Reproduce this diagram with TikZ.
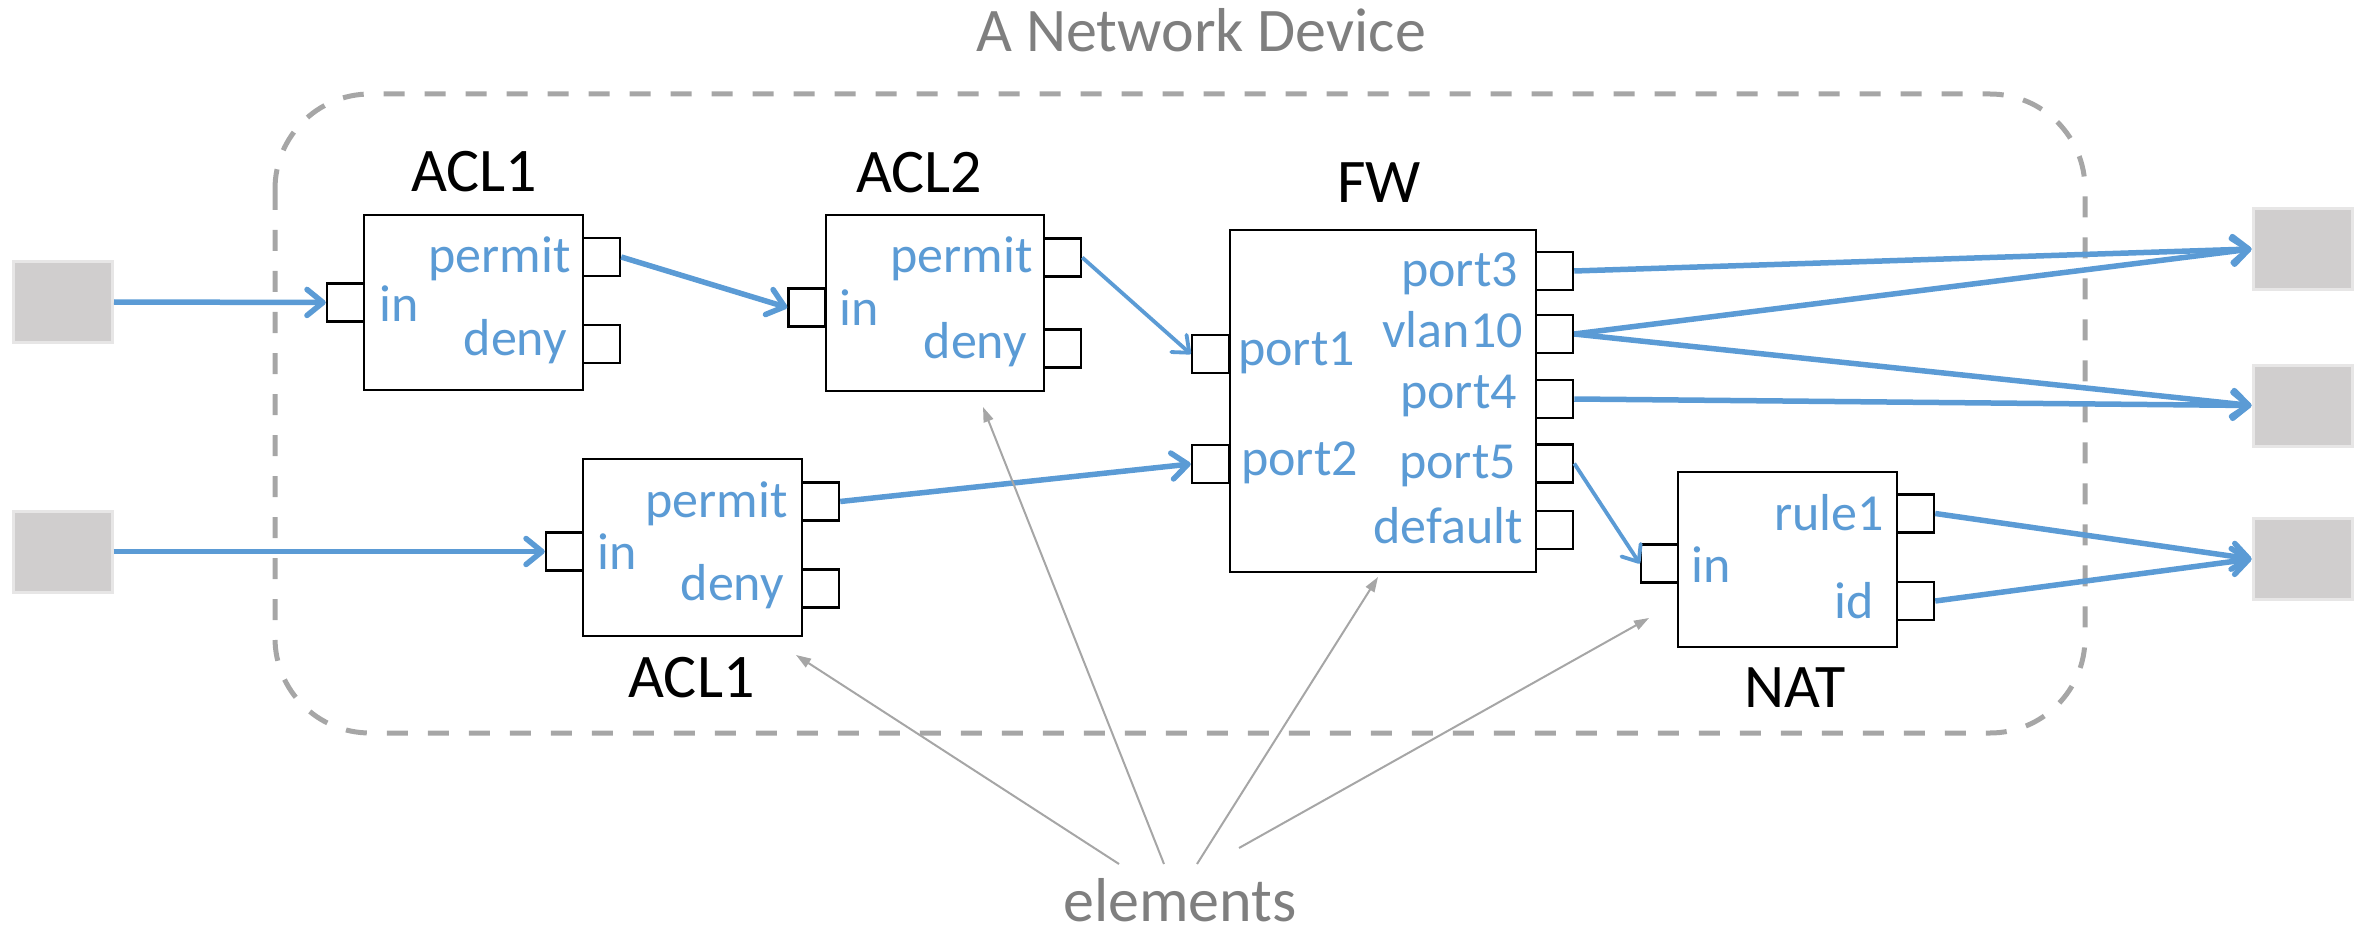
\documentclass[tikz,border=0pt]{standalone}
\usepackage{fontspec}
\setmainfont{Carlito}
\usetikzlibrary{arrows.meta}
\definecolor{linkblue}{HTML}{5B9BD5}
\definecolor{framegray}{HTML}{A6A6A6}
\definecolor{captgray}{HTML}{7F7F7F}
\definecolor{hostfill}{HTML}{D0CECE}
\definecolor{hostedge}{HTML}{E7E6E6}

\begin{document}
\begin{tikzpicture}[x=1pt,y=-1pt,
  elem/.style={draw=black, line width=2.8pt, fill=white, inner sep=0pt},
  port/.style={draw=black, line width=2.5pt, fill=white, inner sep=0pt,
    minimum width=37pt, minimum height=38pt},
  host/.style={draw=hostedge, line width=3pt, fill=hostfill, inner sep=0pt,
    minimum width=99pt, minimum height=81pt},
  etitle/.style={font=\fontsize{62}{70}\selectfont, text=black, inner sep=0pt, anchor=base},
  caption/.style={font=\fontsize{62}{70}\selectfont, text=captgray, inner sep=0pt, anchor=base},
  plabel/.style={font=\fontsize{52}{60}\selectfont, text=linkblue, inner sep=0pt},
  pl/.style={plabel, anchor=base west},
  pr/.style={plabel, anchor=base east},
  link/.style={draw=linkblue, line width=5.5pt,
    -{Straight Barb[length=16pt,width=26pt,round]}},
  thinlink/.style={draw=linkblue, line width=3.8pt,
    -{Straight Barb[length=14pt,width=23pt,round]}},
  note/.style={draw=framegray, line width=2pt, -{Triangle[length=15pt,width=10pt]}},
]
\useasboundingbox (0,0) rectangle (2377,933);

% device outline
\draw[framegray, line width=5pt, dash pattern=on 21pt off 20pt, rounded corners=95pt]
  (275,94) rectangle (2085,733);
\node[caption] (devtitle) at (1201,52) {A Network Device};

% outside hosts
\node[host] (h1) at (63,302) {};
\node[host] (h2) at (62.5,551.5) {};
\node[host] (h3) at (2302.5,249) {};
\node[host] (h4) at (2302.5,405.5) {};
\node[host] (h5) at (2302.5,559) {};

% ACL1 (upper)
\node[elem, minimum width=219pt, minimum height=175pt] (acla) at (473.5,302.5) {};
\node[port] (acla-in) at (345.5,302.5) {};
\node[port] (acla-permit) at (601.5,257) {};
\node[port] (acla-deny) at (601.5,344) {};
\node[etitle] (acla-t) at (474,192) {ACL1};
\node[pr] (acla-pl) at (571,273) {permit};
\node[pr] (acla-dl) at (567,355) {deny};
\node[pl] (acla-il) at (379,322) {in};

% ACL2
\node[elem, minimum width=218pt, minimum height=176pt] (aclb) at (935,303) {};
\node[port] (aclb-in) at (807,307.5) {};
\node[port] (aclb-permit) at (1062.5,257.5) {};
\node[port] (aclb-deny) at (1062.5,348.5) {};
\node[etitle] (aclb-t) at (919,193) {ACL2};
\node[pr] (aclb-pl) at (1033,273) {permit};
\node[pr] (aclb-dl) at (1027,358) {deny};
\node[pl] (aclb-il) at (839,325) {in};

% ACL1 (lower)
\node[elem, minimum width=219pt, minimum height=177pt] (aclc) at (692.5,547.5) {};
\node[port] (aclc-in) at (564.5,551.5) {};
\node[port] (aclc-permit) at (820.5,501.5) {};
\node[port] (aclc-deny) at (820.5,588.5) {};
\node[etitle] (aclc-t) at (691.5,697) {ACL1};
\node[pr] (aclc-pl) at (788,517) {permit};
\node[pr] (aclc-dl) at (784,600) {deny};
\node[pl] (aclc-il) at (597,569) {in};

% FW
\node[elem, minimum width=306pt, minimum height=342pt] (fw) at (1383,401) {};
\node[port] (fw-p1) at (1210.5,354) {};
\node[port] (fw-p2) at (1210.5,464) {};
\node[port] (fw-p3) at (1554.5,271) {};
\node[port] (fw-v10) at (1554.5,334) {};
\node[port] (fw-p4) at (1554.5,399) {};
\node[port] (fw-p5) at (1554.5,463.5) {};
\node[port] (fw-def) at (1554.5,530) {};
\node[etitle] (fw-t) at (1379,203) {FW};
\node[pl] (fw-l1) at (1238,365) {port1};
\node[pl] (fw-l2) at (1241,475) {port2};
\node[pr] (fw-l3) at (1518,287) {port3};
\node[pr] (fw-lv) at (1523,347) {vlan10};
\node[pr] (fw-l4) at (1517,408) {port4};
\node[pr] (fw-l5) at (1516,478) {port5};
\node[pr] (fw-ld) at (1523,543) {default};

% NAT
\node[elem, minimum width=219pt, minimum height=175pt] (nat) at (1787.5,559.5) {};
\node[port] (nat-in) at (1659.5,563.5) {};
\node[port] (nat-r1) at (1915.5,513.5) {};
\node[port] (nat-id) at (1915.5,601) {};
\node[etitle] (nat-t) at (1795,707) {NAT};
\node[pr] (nat-rl) at (1884,530) {rule1};
\node[pr] (nat-dl) at (1874,618) {id};
\node[pl] (nat-il) at (1691,582) {in};

% packet paths
\draw[link] (h1.east) -- (acla-in.west);
\draw[link] (acla-permit.east) -- (aclb-in.west);
\draw[thinlink] (aclb-permit.east) -- (fw-p1.west);
\draw[link] (h2.east) -- (aclc-in.west);
\draw[link] (aclc-permit.east) -- (fw-p2.west);
\draw[link] (fw-p3.east) -- (h3.west);
\draw[link] (fw-v10.east) -- (h3.west);
\draw[link] (fw-v10.east) -- (h4.west);
\draw[link] (fw-p4.east) -- (h4.west);
\draw[thinlink] (fw-p5.east) -- (nat-in.west);
\draw[link] (nat-r1.east) -- (h5.west);
\draw[link] (nat-id.east) -- (h5.west);

% "elements" callout
\node[caption] (elems) at (1180,921) {elements};
\coordinate (e1) at (1119,864);
\coordinate (e2) at (1164,864);
\coordinate (e3) at (1197,864);
\coordinate (e4) at (1239,848);
\coordinate (t1) at (796,655);
\coordinate (t2) at (983,407);
\coordinate (t3) at (1378,577);
\coordinate (t4) at (1649,618);
\draw[note] (e1) -- (t1);
\draw[note] (e2) -- (t2);
\draw[note] (e3) -- (t3);
\draw[note] (e4) -- (t4);
\end{tikzpicture}
\end{document}
